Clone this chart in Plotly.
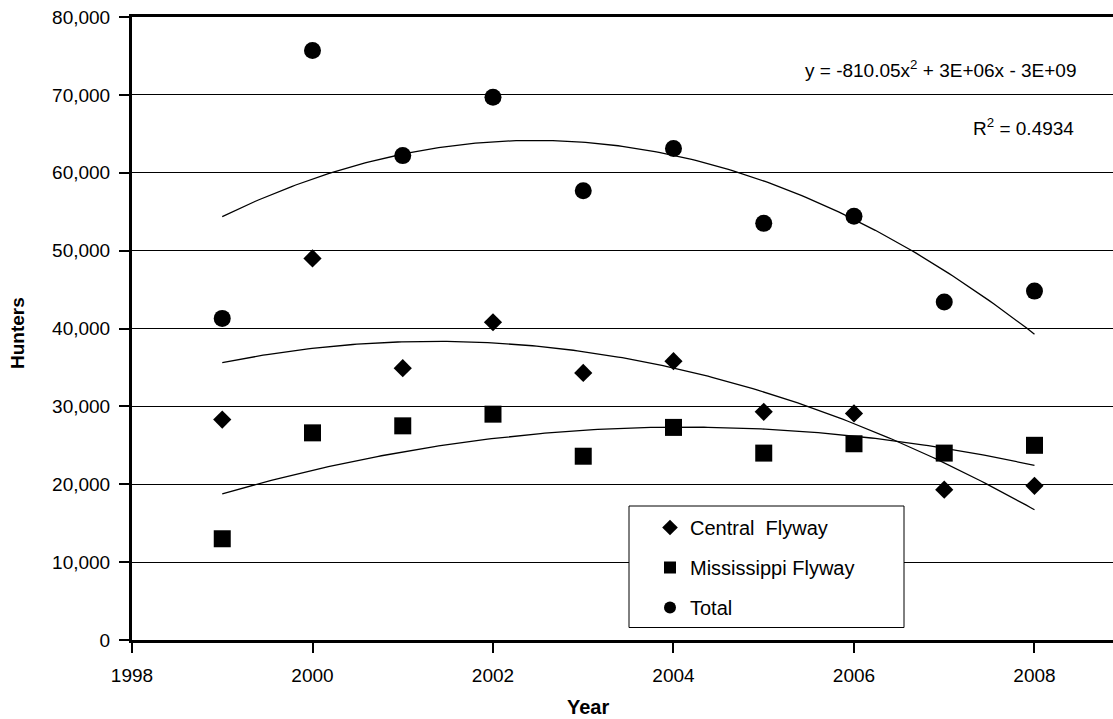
import numpy as np
import plotly.graph_objects as go

# Hunter counts by year (Central and Mississippi flyways, and their total)
years = [1999, 2000, 2001, 2002, 2003, 2004, 2005, 2006, 2007, 2008]
central = [28300, 49000, 34900, 40800, 34300, 35800, 29300, 29100, 19300, 19800]
mississippi = [13000, 26600, 27500, 29000, 23600, 27300, 24000, 25200, 24000, 25000]
total = [41300, 75700, 62200, 69700, 57700, 63100, 53500, 54400, 43400, 44800]

x_ticks = [1998, 2000, 2002, 2004, 2006, 2008]
y_ticks = [0, 10000, 20000, 30000, 40000, 50000, 60000, 70000, 80000]

FONT = "Liberation Sans Narrow, Arial Narrow, Liberation Sans, Arial, sans-serif"

# plot area in pixels: left 132, right 1113, top 17, bottom 640
L, R, T, B = 132, 1113, 17, 640


def px(xp):
    return (xp - L) / (R - L)


def py(yp):
    return (B - yp) / (B - T)


fig = go.Figure()

# second-order polynomial trend lines over the observed years
xs = np.linspace(years[0], years[-1], 200)
for series in (total, central, mississippi):
    coef = np.polyfit(np.array(years, float) - 2000, np.array(series, float), 2)
    fig.add_trace(go.Scatter(
        x=xs, y=np.polyval(coef, xs - 2000), mode="lines",
        line=dict(color="black", width=1.3), showlegend=False, hoverinfo="skip"))

fig.add_trace(go.Scatter(
    x=years, y=central, mode="markers", name="Central  Flyway", legendgroup="c",
    marker=dict(symbol="diamond", size=14, color="black")))
fig.add_trace(go.Scatter(
    x=years, y=mississippi, mode="markers", name="Mississippi Flyway", legendgroup="m",
    marker=dict(symbol="square", size=17, color="black")))
fig.add_trace(go.Scatter(
    x=years, y=total, mode="markers", name="Total", legendgroup="t",
    marker=dict(symbol="circle", size=17, color="black")))

fig.update_layout(
    width=1113, height=719,
    margin=dict(l=L, r=0, t=T, b=719 - B),
    paper_bgcolor="white", plot_bgcolor="white",
    font=dict(family=FONT, size=20, color="black"),
    showlegend=True,
    legend=dict(
        x=px(650), y=py(508), xanchor="left", yanchor="top",
        bgcolor="rgba(0,0,0,0)", borderwidth=0,
        font=dict(family=FONT, size=20), tracegroupgap=11,
        itemsizing="constant"),
    xaxis=dict(
        range=[1998, 2008.87], tickvals=x_ticks, ticktext=[str(v) for v in x_ticks],
        showgrid=False, zeroline=False,
        showline=True, linecolor="black", linewidth=3, mirror=True,
        ticks="outside", ticklen=10, tickwidth=2, tickcolor="black",
        ticklabelstandoff=6,
        tickfont=dict(family=FONT, size=19)),
    yaxis=dict(
        range=[0, 80000], tickvals=y_ticks, tickformat=",d",
        showgrid=True, gridcolor="black", gridwidth=1, zeroline=False,
        showline=True, linecolor="black", linewidth=3,
        ticks="outside", ticklen=10, tickwidth=2, tickcolor="black",
        ticklabelstandoff=5,
        tickfont=dict(family=FONT, size=19)),
    shapes=[
        # legend frame, white-filled so gridlines stop at its edge
        dict(type="rect", xref="paper", yref="paper", layer="above",
             x0=px(629), x1=px(904), y0=py(627.5), y1=py(506),
             line=dict(color="black", width=1), fillcolor="white"),
    ],
    annotations=[
        dict(text="y = -810.05x<sup>2</sup> + 3E+06x - 3E+09", xref="paper", yref="paper",
             x=px(1078), y=py(69), xanchor="right", yanchor="middle", showarrow=False,
             font=dict(family=FONT, size=19)),
        dict(text="R<sup>2</sup> = 0.4934", xref="paper", yref="paper",
             x=px(1076), y=py(127), xanchor="right", yanchor="middle", showarrow=False,
             font=dict(family=FONT, size=19)),
        dict(text="<b>Hunters</b>", xref="paper", yref="paper",
             x=px(17), y=py(333), xanchor="center", yanchor="middle",
             textangle=-90, showarrow=False, font=dict(family=FONT, size=19)),
        dict(text="<b>Year</b>", xref="paper", yref="paper",
             x=px(588), y=py(707), xanchor="center", yanchor="middle",
             showarrow=False, font=dict(family=FONT, size=20)),
    ],
)

fig.write_html("out.html")
